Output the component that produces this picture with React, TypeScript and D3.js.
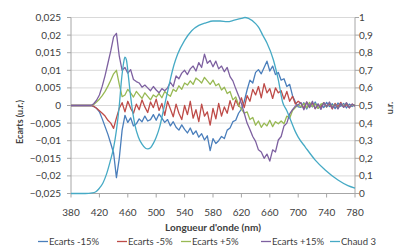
import React from 'react';
import * as d3 from 'd3';

const wavelengths = [
  380, 384, 388, 392, 396, 400, 404, 408, 412, 416, 420, 424, 428, 432, 436, 440, 444, 448, 452, 456,
  460, 464, 468, 472, 476, 480, 484, 488, 492, 496, 500, 504, 508, 512, 516, 520, 524, 528, 532, 536,
  540, 544, 548, 552, 556, 560, 564, 568, 572, 576, 580, 584, 588, 592, 596, 600, 604, 608, 612, 616,
  620, 624, 628, 632, 636, 640, 644, 648, 652, 656, 660, 664, 668, 672, 676, 680, 684, 688, 692, 696,
  700, 704, 708, 712, 716, 720, 724, 728, 732, 736, 740, 744, 748, 752, 756, 760, 764, 768, 772, 776, 780,
];

const ecartsM15 = [
  0, 0, 0, 0, 0, 0, 0, 0, -0.0003, -0.0008, -0.0018, -0.0038, -0.006, -0.0082, -0.0108, -0.0135, -0.0205, -0.015, -0.007, -0.0028,
  -0.0048, -0.0035, -0.0058, -0.0052, -0.0038, -0.0046, -0.003, -0.0044, -0.004, -0.0026, -0.0042, -0.0024, -0.0036, -0.0048, -0.004, -0.0058, -0.0046, -0.0062, -0.007, -0.0055,
  -0.0068, -0.0078, -0.0064, -0.0082, -0.0072, -0.009, -0.008, -0.0098, -0.0086, -0.0128, -0.0094, -0.0108, -0.01, -0.0088, -0.0094, -0.007, -0.0064, -0.0046, -0.0042, -0.0022,
  -0.001, 0.0012, 0.0044, 0.0072, 0.0064, 0.0094, 0.0102, 0.009, 0.0108, 0.0126, 0.0098, 0.0112, 0.0088, 0.0094, 0.0072, 0.0076, 0.0054, 0.006, 0.0028, 0.001,
  -0.0004, -0.0005, 0.0008, -0.001, 0.0006, -0.0004, 0.001, -0.0008, 0.0003, -0.0006, 0.0009, -0.0003, 0.0005, -0.0009, 0.0007, -0.0002, 0.0006, -0.0007, 0.0004, -0.0003, 0.0002,
];

const ecartsM5 = [
  0, 0, 0, 0, 0, 0, 0, 0, -0.0002, -0.0008, -0.0015, -0.0022, -0.003, -0.0042, -0.005, -0.0065, -0.0035, -0.0008, 0.0008, -0.0018,
  0.0012, -0.0008, -0.0022, 0.0004, -0.0012, 0.0016, -0.0004, -0.002, 0.001, -0.0006, 0.0018, -0.0014, 0.0006, -0.0028, 0.0012, -0.001, -0.0032, 0.0004, -0.0022, -0.004,
  0, -0.0026, 0.0012, -0.0036, -0.0012, -0.0046, 0.0004, -0.003, -0.0018, -0.0056, -0.0008, -0.0038, 0.0006, -0.003, -0.0004, -0.0022, 0.0014, -0.0012, 0.0016, -0.0002,
  0.0022, -0.0006, 0.0028, 0.0012, 0.0046, 0.003, 0.0054, 0.0022, 0.0062, 0.0036, 0.0048, 0.002, 0.005, 0.0036, 0.0042, 0.0018, 0.004, 0.0012, 0.0026, 0.0004,
  0.0012, 0.0006, -0.0008, 0.001, -0.0004, 0.0007, -0.0009, 0.0003, -0.0006, 0.0008, -0.0002, 0.0005, -0.001, 0.0006, -0.0004, 0.0009, -0.0005, 0.0003, -0.0007, 0.0004, -0.0001,
];

const ecartsP5 = [
  0, 0, 0, 0, 0, 0, 0, 0, 0.0003, 0.001, 0.0018, 0.0028, 0.004, 0.0055, 0.0072, 0.009, 0.01, 0.006, 0.0025, 0.003,
  0.0046, 0.0036, 0.0024, 0.004, 0.003, 0.002, 0.0036, 0.0026, 0.0016, 0.003, 0.0024, 0.0034, 0.0022, 0.004, 0.0032, 0.0026, 0.0046, 0.004, 0.0056, 0.0046,
  0.0064, 0.0058, 0.007, 0.006, 0.0078, 0.0072, 0.0064, 0.008, 0.007, 0.006, 0.0072, 0.0056, 0.0062, 0.0044, 0.0052, 0.0034, 0.004, 0.0016, 0.0024, 0.0002,
  -0.001, -0.0022, -0.0018, -0.004, -0.0034, -0.0056, -0.0044, -0.0062, -0.005, -0.0058, -0.0042, -0.006, -0.0046, -0.0052, -0.0044, -0.0052, -0.003, -0.0036, -0.0014, -0.0006,
  0.0003, -0.0004, 0.0006, -0.0007, 0.0009, -0.0003, 0.0005, -0.0008, 0.0004, 0.0007, -0.0005, 0.0008, -0.0003, 0.0004, -0.0008, 0.0005, -0.0002, 0.0007, -0.0004, 0.0002, 0,
];

const ecartsP15 = [
  0, 0, 0, 0, 0, 0, 0, 0, 0.0005, 0.0015, 0.003, 0.0055, 0.0085, 0.012, 0.0155, 0.0195, 0.0205, 0.014, 0.01, 0.0108,
  0.0092, 0.0102, 0.0074, 0.0068, 0.0064, 0.0052, 0.0058, 0.005, 0.0042, 0.0054, 0.0044, 0.0036, 0.0048, 0.0042, 0.005, 0.0066, 0.0054, 0.0084, 0.0076, 0.0092,
  0.01, 0.0088, 0.0104, 0.0112, 0.0098, 0.0122, 0.0108, 0.0146, 0.012, 0.0128, 0.011, 0.0126, 0.0104, 0.0112, 0.0096, 0.0108, 0.0082, 0.007, 0.0048, 0.0028,
  0.0006, -0.0022, -0.005, -0.0068, -0.0088, -0.0102, -0.0126, -0.0132, -0.015, -0.0138, -0.0158, -0.0126, -0.0132, -0.0098, -0.0088, -0.0058, -0.005, -0.0024, -0.0012, -0.0002,
  0.0002, 0.0008, -0.0012, 0.001, -0.0006, 0.0012, -0.0009, 0.0005, -0.0011, 0.0008, -0.0004, 0.001, -0.0007, 0.0003, -0.001, 0.0006, -0.0005, 0.0008, -0.0006, 0.0004, -0.0002,
];

const chaudWavelengths = [
  380, 400, 410, 415, 420, 425, 430, 435, 440, 444, 448, 451, 454, 456, 458, 461, 464, 467, 470, 475,
  480, 485, 488, 492, 496, 500, 505, 510, 515, 520, 525, 530, 540, 550, 560, 570, 580, 590, 600, 610,
  620, 625, 630, 640, 645, 650, 656, 665, 672, 678, 684, 690, 695, 700, 710, 724, 738, 756, 770, 780,
];
const chaud3 = [
  0, 0, 0.003, 0.01, 0.03, 0.06, 0.11, 0.18, 0.26, 0.36, 0.5, 0.64, 0.74, 0.775, 0.76, 0.66, 0.55, 0.46, 0.39, 0.32,
  0.28, 0.257, 0.253, 0.26, 0.285, 0.32, 0.38, 0.47, 0.56, 0.65, 0.73, 0.79, 0.87, 0.925, 0.955, 0.97, 0.98, 0.98, 0.976, 0.985,
  0.995, 1.0, 0.995, 0.965, 0.94, 0.9, 0.855, 0.76, 0.645, 0.52, 0.47, 0.41, 0.36, 0.32, 0.264, 0.19, 0.134, 0.077, 0.045, 0.031,
];

const xTicks = [380, 420, 460, 500, 540, 580, 620, 660, 700, 740, 780];
const yLeftTicks = [-0.025, -0.02, -0.015, -0.01, -0.005, 0, 0.005, 0.01, 0.015, 0.02, 0.025];
const yRightTicks = [0, 0.1, 0.2, 0.3, 0.4, 0.5, 0.6, 0.7, 0.8, 0.9, 1];

const seriesNames = ['Ecarts -15%', 'Ecarts -5%', 'Ecarts +5%', 'Ecarts +15%', 'Chaud 3'];
const seriesColors = ['#4A7EBB', '#BE4B48', '#98B954', '#7D60A0', '#46AAC5'];

const locale = d3.formatLocale({ decimal: ',', thousands: ' ', grouping: [3], currency: ['', ''] });
const fmtLeft = locale.format('.3~f');
const fmtRight = locale.format('.1~f');

const FONT = 'Lato, "Open Sans", sans-serif';
const TEXT = '#404040';

export default function App() {
  const left = 71;
  const right = 355;
  const top = 17.5;
  const bottom = 193.5;

  const x = d3.scaleLinear().domain([380, 780]).range([left, right]);
  const yL = d3.scaleLinear().domain([-0.025, 0.025]).range([bottom, top]);
  const yR = d3.scaleLinear().domain([0, 1]).range([bottom, top]);

  const lineL = d3
    .line<number>()
    .x((_, i) => x(wavelengths[i]))
    .y((d) => yL(d));
  const lineR = d3
    .line<number>()
    .x((_, i) => x(chaudWavelengths[i]))
    .y((d) => yR(d))
    .curve(d3.curveMonotoneX);

  const ecarts = [ecartsM15, ecartsM5, ecartsP5, ecartsP15];
  const legendX = [38, 117, 181, 261, 330];

  return (
    <svg
      width={395}
      height={246}
      style={{ position: 'absolute', left: 0, top: 0, background: '#fff' }}
      fontFamily={FONT}
    >
      {yLeftTicks.map((t) => (
        <line key={'g' + t} x1={left} x2={right} y1={yL(t)} y2={yL(t)} stroke="#D9D9D9" strokeWidth={1} />
      ))}
      <line x1={left} x2={left} y1={top} y2={bottom} stroke="#A6A6A6" />
      <line x1={right} x2={right} y1={top} y2={bottom} stroke="#A6A6A6" />
      <line x1={left} x2={right} y1={bottom} y2={bottom} stroke="#A6A6A6" />
      {xTicks.map((t) => (
        <line key={'xt' + t} x1={x(t)} x2={x(t)} y1={bottom} y2={bottom + 4} stroke="#A6A6A6" />
      ))}
      {yLeftTicks.map((t) => (
        <line key={'ylt' + t} x1={left - 4} x2={left} y1={yL(t)} y2={yL(t)} stroke="#A6A6A6" />
      ))}
      {yRightTicks.map((t) => (
        <line key={'yrt' + t} x1={right} x2={right + 4} y1={yR(t)} y2={yR(t)} stroke="#A6A6A6" />
      ))}

      {ecarts.map((s, i) => (
        <path key={'s' + i} d={lineL(s) || ''} fill="none" stroke={seriesColors[i]} strokeWidth={1.3} strokeLinejoin="round" />
      ))}
      <path d={lineR(chaud3) || ''} fill="none" stroke={seriesColors[4]} strokeWidth={1.3} />

      {yLeftTicks.map((t) => (
        <text key={'yl' + t} x={61} y={yL(t)} dy="0.35em" textAnchor="end" fontSize={10} fill={TEXT}>
          {fmtLeft(t)}
        </text>
      ))}
      {yRightTicks.map((t) => (
        <text key={'yr' + t} x={359} y={yR(t)} dy="0.35em" textAnchor="start" fontSize={10} fill={TEXT}>
          {fmtRight(t)}
        </text>
      ))}
      {xTicks.map((t) => (
        <text key={'xl' + t} x={x(t)} y={212} dy="0.35em" textAnchor="middle" fontSize={10} fill={TEXT}>
          {t}
        </text>
      ))}

      <text x={213} y={227} dy="0.35em" textAnchor="middle" fontSize={10} fontWeight="bold" fill={TEXT}>
        Longueur d'onde (nm)
      </text>
      <text transform="translate(20,122) rotate(-90)" dy="0.35em" textAnchor="middle" fontSize={9} fontWeight="bold" fill={TEXT}>
        Ecarts (u.r.)
      </text>
      <text transform="translate(390,108) rotate(-90)" dy="0.35em" textAnchor="middle" fontSize={9} fontWeight="bold" fill={TEXT}>
        u.r.
      </text>

      {seriesNames.map((n, i) => (
        <g key={'lg' + i} transform={`translate(${legendX[i]},241.5)`}>
          <line x1={0} x2={10} y1={0} y2={0} stroke={seriesColors[i]} strokeWidth={1.3} />
          <text x={11} y={0} dy="0.35em" fontSize={9.5} fill={TEXT}>
            {n}
          </text>
        </g>
      ))}
    </svg>
  );
}
